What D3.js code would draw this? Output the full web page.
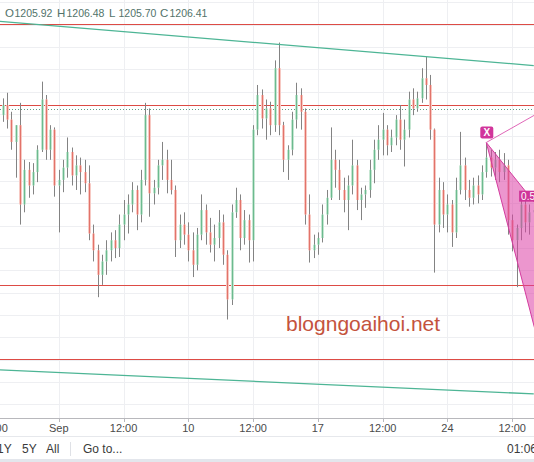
<!DOCTYPE html>
<html><head><meta charset="utf-8">
<script src="https://cdn.jsdelivr.net/npm/d3@7"></script>
<style>body{margin:0;background:#fff;overflow:hidden}svg{display:block}</style>
</head><body><svg id="c" width="534" height="462"></svg>
<script>
// ---- data (XAUUSD, 4h bars) ----
const open  = [1205.0,1205.9,1206.8,1205.5,1203.5,1205.0,1197.9,1201.0,1199.6,1200.8,1202.8,1207.3,1202.8,1204.6,1199.6,1200.1,1201.2,1202.6,1200.5,1201.4,1200.8,1199.8,1195.3,1193.8,1191.6,1192.8,1193.8,1194.7,1194.0,1196.1,1197.0,1197.9,1199.2,1197.0,1200.1,1205.9,1198.9,1199.4,1201.4,1201.9,1200.1,1199.2,1194.7,1196.1,1195.2,1193.8,1192.5,1195.2,1197.4,1195.4,1194.3,1194.9,1196.3,1193.4,1189.4,1197.2,1198.3,1194.9,1196.5,1194.7,1204.6,1207.7,1205.6,1206.5,1205.0,1210.1,1205.0,1201.9,1202.8,1205.5,1207.7,1206.2,1197.0,1193.8,1194.3,1194.9,1197.0,1198.5,1201.9,1201.0,1199.2,1198.3,1199.6,1201.4,1198.3,1198.8,1199.2,1201.0,1202.8,1203.7,1204.6,1203.2,1203.9,1205.5,1203.7,1204.6,1207.3,1206.5,1207.4,1209.2,1208.6,1204.6,1196.1,1199.2,1197.0,1197.9,1195.4,1199.2,1201.4,1199.2,1198.5,1199.6,1198.8,1200.8,1202.1,1201.2,1201.9,1200.8,1201.4,1196.5,1194.7,1195.8,1197.9,1196.3,1197.2];
const high  = [1206.5,1207.4,1207.9,1206.2,1205.0,1207.0,1201.9,1201.7,1201.6,1203.2,1208.9,1207.7,1205.0,1204.8,1201.0,1201.9,1203.9,1203.0,1202.3,1202.1,1201.9,1201.4,1196.1,1194.3,1193.4,1194.7,1195.4,1195.6,1197.0,1198.3,1198.8,1199.9,1199.6,1201.0,1207.0,1206.5,1200.1,1201.9,1203.5,1202.8,1201.9,1199.6,1197.0,1197.2,1196.3,1195.4,1195.8,1198.8,1197.9,1196.7,1196.1,1197.4,1197.0,1193.8,1197.9,1199.4,1198.8,1197.4,1197.0,1205.0,1208.6,1208.2,1207.3,1207.1,1210.8,1212.4,1205.3,1203.2,1206.2,1208.8,1208.3,1206.5,1198.8,1195.2,1195.4,1197.9,1199.2,1204.8,1202.8,1201.9,1200.3,1200.5,1203.7,1201.9,1199.4,1199.6,1201.9,1203.7,1205.0,1206.1,1205.0,1204.6,1205.9,1206.8,1205.5,1208.0,1208.3,1208.0,1210.1,1211.1,1209.5,1204.7,1200.3,1199.9,1198.8,1198.3,1200.3,1204.4,1202.1,1200.1,1200.3,1200.5,1201.4,1203.4,1202.8,1202.6,1202.8,1202.5,1201.9,1197.0,1196.1,1198.8,1198.8,1197.9,1198.3];
const low   = [1204.1,1205.3,1204.7,1202.8,1200.3,1196.1,1197.2,1198.5,1198.8,1199.9,1202.6,1201.9,1201.9,1198.6,1195.4,1199.0,1200.3,1199.6,1199.2,1198.8,1199.0,1194.7,1192.8,1189.6,1190.7,1191.6,1192.8,1193.1,1193.2,1194.7,1195.3,1197.2,1195.6,1196.3,1199.6,1196.8,1197.9,1198.8,1200.1,1198.9,1198.8,1193.2,1194.0,1194.3,1192.8,1191.4,1192.0,1194.7,1194.3,1193.6,1192.8,1194.0,1192.5,1187.6,1188.9,1196.7,1193.8,1194.3,1192.7,1192.8,1204.1,1204.7,1203.7,1204.1,1204.4,1204.1,1200.8,1200.1,1202.3,1204.7,1204.6,1196.1,1192.7,1193.1,1193.4,1194.5,1196.1,1198.3,1199.4,1198.3,1197.2,1195.6,1198.8,1197.4,1196.5,1197.6,1198.5,1199.8,1201.9,1202.3,1202.3,1202.6,1203.2,1202.8,1201.3,1203.9,1205.9,1206.2,1207.0,1207.3,1203.7,1191.8,1195.4,1195.8,1195.4,1194.1,1194.9,1198.8,1198.3,1197.7,1197.9,1198.0,1198.3,1200.3,1200.4,1200.1,1199.9,1200.1,1195.2,1193.7,1190.5,1194.7,1195.4,1195.2,1196.0];
const close = [1205.9,1206.8,1205.5,1203.5,1205.0,1197.9,1201.0,1199.6,1200.8,1202.8,1207.3,1202.8,1204.6,1199.6,1200.1,1201.2,1202.6,1200.5,1201.4,1200.8,1199.8,1195.3,1193.8,1191.6,1192.8,1193.8,1194.7,1194.0,1196.1,1197.0,1197.9,1199.2,1197.0,1200.1,1205.9,1198.9,1199.4,1201.4,1201.9,1200.1,1199.2,1194.7,1196.1,1195.2,1193.8,1192.5,1195.2,1197.4,1195.4,1194.3,1194.9,1196.3,1193.4,1189.4,1197.2,1198.3,1194.9,1196.5,1194.7,1204.6,1207.7,1205.6,1206.5,1205.0,1210.1,1205.0,1201.9,1202.8,1205.5,1207.7,1206.2,1197.0,1193.8,1194.3,1194.9,1197.0,1198.5,1201.9,1201.0,1199.2,1198.3,1199.6,1201.4,1198.3,1198.8,1199.2,1201.0,1202.8,1203.7,1204.6,1203.2,1203.9,1205.5,1203.7,1204.6,1207.3,1206.5,1207.4,1209.2,1208.6,1204.6,1196.1,1199.2,1197.0,1197.9,1195.4,1199.2,1201.4,1199.2,1198.5,1199.6,1198.8,1200.8,1202.1,1201.2,1201.9,1200.8,1201.4,1196.5,1194.7,1195.8,1197.9,1196.3,1197.2,1197.4];

const tickIndex  = [-1, 14, 29, 44, 59, 74, 89, 104, 119];
const tickLabels = ["12:00","Sep","12:00","10","12:00","17","12:00","24","12:00"];
const gridPrices = d3.range(1180, 1218, 2);
const levelLines = [1214.1, 1206.8, 1190.7, 1184.1];
const lastPrice  = 1206.41;
const legendKeys = ["O","H","L","C"];
const legendVals = ["1205.92","1206.48","1205.70","1206.41"];
const trendTop    = [[0,1214.3],[124,1210.34]];
const trendBottom = [[0,1183.1],[124,1180.94]];
const patX = [113,1203.45], patA = [131,1176.7], patB = [137,1191.9], patEnd = [126,1206.3];
const ratioAnchor = [120.6,1198.6];
const toolbarItems = ["1Y","5Y","All"];

// ---- scales ----
const W = 534, H = 462, plotBottom = 418;
const x = d3.scaleLinear().domain([14,119]).range([58.8,512.2]);
const y = d3.scaleLinear().domain([1212,1180]).range([47,404.4]);
const svg = d3.select("#c");
svg.append("defs").append("clipPath").attr("id","pc").append("rect").attr("x",0).attr("y",0).attr("width",W).attr("height",plotBottom);
const plot = svg.append("g").attr("clip-path","url(#pc)");

// grid
plot.append("g").selectAll("line").data(gridPrices).join("line")
  .attr("x1",0).attr("x2",W).attr("y1",d=>Math.round(y(d))+0.5).attr("y2",d=>Math.round(y(d))+0.5)
  .attr("stroke","#eeeff2").attr("stroke-width",1);
plot.append("g").selectAll("line").data(tickIndex).join("line")
  .attr("x1",d=>Math.round(x(d))+0.5).attr("x2",d=>Math.round(x(d))+0.5).attr("y1",0).attr("y2",plotBottom)
  .attr("stroke","#eeeff2").attr("stroke-width",1);

// level lines
plot.append("g").selectAll("line").data(levelLines).join("line")
  .attr("x1",0).attr("x2",W).attr("y1",d=>Math.round(y(d))+0.5).attr("y2",d=>Math.round(y(d))+0.5)
  .attr("stroke","#dd4b45").attr("stroke-width",1);
plot.append("line").attr("x1",0).attr("x2",W).attr("y1",Math.round(y(lastPrice))+0.5).attr("y2",Math.round(y(lastPrice))+0.5)
  .attr("stroke","#5f9c84").attr("stroke-width",1).attr("stroke-dasharray","1,2");

// candles
const idx = d3.range(close.length);
const cg = plot.append("g");
cg.selectAll("line.w").data(idx).join("line").attr("class","w")
  .attr("x1",i=>Math.round(x(i))+0.5).attr("x2",i=>Math.round(x(i))+0.5)
  .attr("y1",i=>y(high[i])).attr("y2",i=>y(low[i]))
  .attr("stroke","#838383").attr("stroke-width",1);
cg.selectAll("rect").data(idx).join("rect")
  .attr("x",i=>Math.round(x(i))-1).attr("width",3)
  .attr("y",i=>Math.min(y(open[i]),y(close[i])))
  .attr("height",i=>Math.max(1,Math.abs(y(open[i])-y(close[i]))))
  .attr("fill",i=>close[i]>=open[i]?"#c6e6d2":"#f7c9c3");
cg.selectAll("line.b").data(idx).join("line").attr("class","b")
  .attr("x1",i=>Math.round(x(i))+0.5).attr("x2",i=>Math.round(x(i))+0.5)
  .attr("y1",i=>y(open[i])).attr("y2",i=>y(close[i]))
  .attr("stroke",i=>close[i]>=open[i]?"#6cba8f":"#e2736a").attr("stroke-width",1);

// trend lines
const ln = d3.line().x(d=>x(d[0])).y(d=>y(d[1]));
[trendTop,trendBottom].forEach(t=>plot.append("path").attr("d",ln(t)).attr("fill","none").attr("stroke","#4db595").attr("stroke-width",1.3));

// harmonic pattern
plot.append("path").attr("d",ln([patX,patA,patB])+"Z").attr("fill","#dc3fa5").attr("fill-opacity",0.55)
  .attr("stroke","#d33c9e").attr("stroke-width",1);
plot.append("path").attr("d",ln([patX,patEnd])).attr("stroke","#e067b8").attr("stroke-width",1).attr("fill","none");
const lx = x(patX[0]), ly = y(patX[1]);
plot.append("rect").attr("x",lx-6).attr("y",ly-16).attr("width",13).attr("height",12).attr("rx",2).attr("fill","#d1359b");
plot.append("text").attr("x",lx+0.5).attr("y",ly-6.5).attr("text-anchor","middle").attr("fill","#fff")
  .attr("font-family","Liberation Sans, Arial, sans-serif").attr("font-size",10).attr("font-weight","bold").text("X");
const rx = x(ratioAnchor[0]), ry = y(ratioAnchor[1]);
plot.append("rect").attr("x",rx).attr("y",ry-6).attr("width",40).attr("height",11).attr("fill","#cf3599");
plot.append("text").attr("x",rx+2).attr("y",ry+3.5).attr("fill","#fff")
  .attr("font-family","Liberation Sans, Arial, sans-serif").attr("font-size",10).text("0.586");

// watermark
svg.append("text").attr("x",286).attr("y",331).attr("fill","#c4533d")
  .attr("font-family","Liberation Sans, Arial, sans-serif").attr("font-size",21).text("blogngoaihoi.net");

// legend
const lg = svg.append("g").attr("font-family","Liberation Sans, Arial, sans-serif").attr("fill","#52736a");
const keyX = [5,57,109,160];
legendKeys.forEach((k,j)=>{
  lg.append("text").attr("x",keyX[j]).attr("y",17).attr("font-size",11.5).text(k);
  lg.append("text").attr("x",keyX[j]+9.5).attr("y",17).attr("font-size",10.5).text(legendVals[j]);
});

// x axis
svg.append("line").attr("x1",0).attr("x2",W).attr("y1",plotBottom+0.5).attr("y2",plotBottom+0.5).attr("stroke","#b8b8bc");
const ax = svg.append("g");
ax.selectAll("line").data(tickIndex).join("line")
  .attr("x1",d=>Math.round(x(d))+0.5).attr("x2",d=>Math.round(x(d))+0.5).attr("y1",plotBottom).attr("y2",plotBottom+4).attr("stroke","#b8b8bc");
ax.selectAll("text").data(tickIndex).join("text")
  .attr("x",d=>x(d)).attr("y",432).attr("text-anchor","middle")
  .attr("font-family","Liberation Sans, Arial, sans-serif").attr("font-size",11).attr("fill","#4a4a4a")
  .text((d,j)=>tickLabels[j]);

// toolbar
svg.append("line").attr("x1",0).attr("x2",W).attr("y1",436.5).attr("y2",436.5).attr("stroke","#e6e8ec");
const tb = svg.append("g").attr("font-family","Liberation Sans, Arial, sans-serif").attr("font-size",12).attr("fill","#3a3a3a");
const tbX = [-3,22,46];
toolbarItems.forEach((t,j)=>tb.append("text").attr("x",tbX[j]).attr("y",453).text(t));
svg.append("line").attr("x1",70.5).attr("x2",70.5).attr("y1",442).attr("y2",456).attr("stroke","#dfe1e6");
tb.append("text").attr("x",83).attr("y",453).text("Go to...");
tb.append("text").attr("x",507).attr("y",453).text("01:06:23 (UTC+7)");
svg.append("rect").attr("x",0).attr("y",459).attr("width",W).attr("height",3).attr("fill","#e3e6ec");
</script></body></html>
